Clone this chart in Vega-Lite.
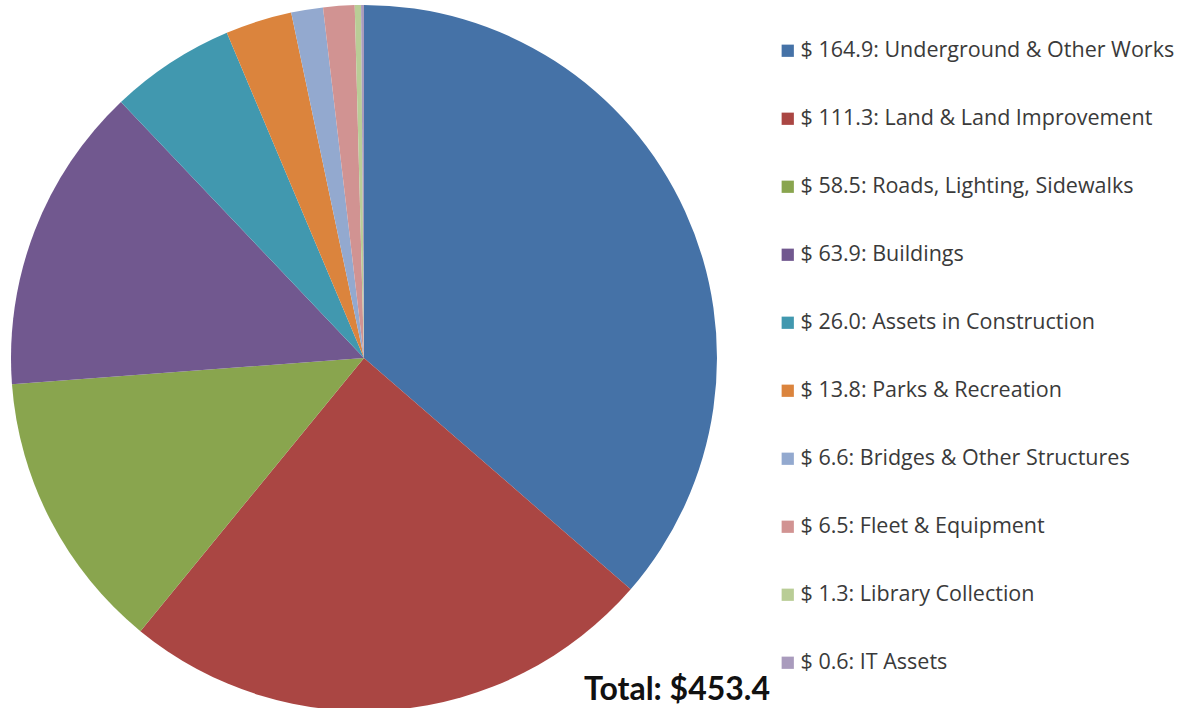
{
  "$schema": "https://vega.github.io/schema/vega-lite/v6.json",
  "width": 728,
  "height": 716,
  "padding": 0,
  "background": "white",
  "config": {"view": {"stroke": null}},
  "data": {
    "values": [
      {"k": 1, "label": "$ 164.9: Underground & Other Works", "value": 164.9},
      {"k": 2, "label": "$ 111.3: Land & Land Improvement", "value": 111.3},
      {"k": 3, "label": "$ 58.5: Roads, Lighting, Sidewalks", "value": 58.5},
      {"k": 4, "label": "$ 63.9: Buildings", "value": 63.9},
      {"k": 5, "label": "$ 26.0: Assets in Construction", "value": 26.0},
      {"k": 6, "label": "$ 13.8: Parks & Recreation", "value": 13.8},
      {"k": 7, "label": "$ 6.6: Bridges & Other Structures", "value": 6.6},
      {"k": 8, "label": "$ 6.5: Fleet & Equipment", "value": 6.5},
      {"k": 9, "label": "$ 1.3: Library Collection", "value": 1.3},
      {"k": 10, "label": "$ 0.6: IT Assets", "value": 0.6}
    ]
  },
  "title": {
    "text": "Total: $453.4",
    "orient": "bottom",
    "anchor": "end",
    "frame": "group",
    "offset": -41,
    "dx": 42,
    "font": "Lato",
    "fontSize": 32,
    "fontWeight": "bold",
    "color": "#111111"
  },
  "mark": {"type": "arc", "outerRadius": 353, "stroke": null},
  "encoding": {
    "theta": {"field": "value", "type": "quantitative", "stack": true},
    "order": {"field": "k", "type": "quantitative"},
    "color": {
      "field": "label",
      "type": "nominal",
      "sort": null,
      "scale": {
        "domain": [
          "$ 164.9: Underground & Other Works",
          "$ 111.3: Land & Land Improvement",
          "$ 58.5: Roads, Lighting, Sidewalks",
          "$ 63.9: Buildings",
          "$ 26.0: Assets in Construction",
          "$ 13.8: Parks & Recreation",
          "$ 6.6: Bridges & Other Structures",
          "$ 6.5: Fleet & Equipment",
          "$ 1.3: Library Collection",
          "$ 0.6: IT Assets"
        ],
        "range": ["#4572A7", "#AA4643", "#89A54E", "#71588F", "#4198AF", "#DB843D", "#93A9CF", "#D19392", "#B9CD96", "#A99BBD"]
      },
      "legend": {
        "title": null,
        "orient": "none",
        "legendX": 777,
        "legendY": 40,
        "symbolType": "square",
        "symbolSize": 150,
        "symbolStrokeWidth": 0,
        "symbolOpacity": 1,
        "labelFont": "Open Sans",
        "labelFontSize": 21.5,
        "labelColor": "#3a3a3a",
        "labelOffset": 2,
        "labelLimit": 500,
        "rowPadding": 45
      }
    }
  }
}
